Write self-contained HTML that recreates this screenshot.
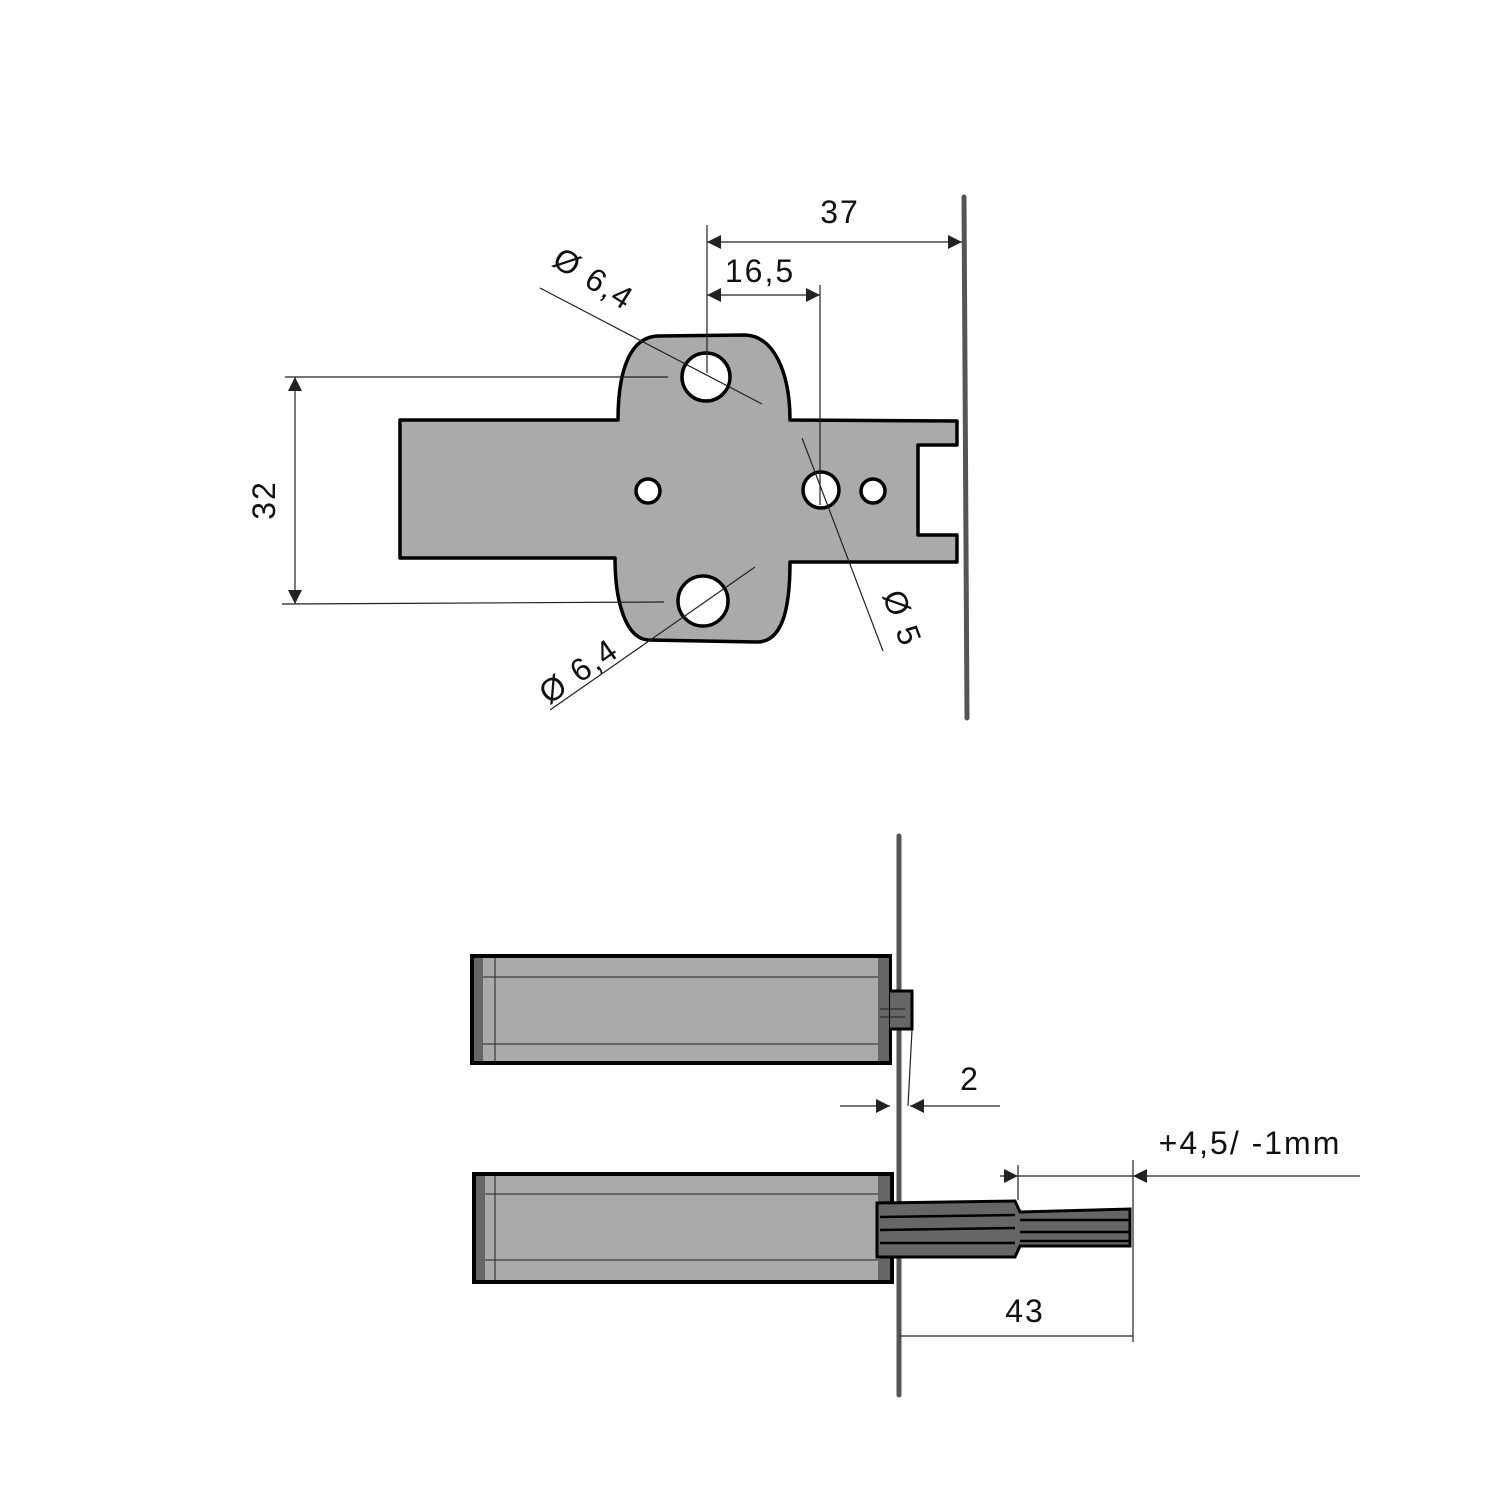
<!DOCTYPE html>
<html><head><meta charset="utf-8"><style>html,body{margin:0;padding:0;background:#fff}svg{display:block}</style></head>
<body>
<svg width="1500" height="1500" viewBox="0 0 1500 1500" xmlns="http://www.w3.org/2000/svg" font-family="Liberation Sans, sans-serif">
<defs>
<marker id="a" viewBox="0 0 10 10" refX="10" refY="5" markerWidth="14" markerHeight="14" markerUnits="userSpaceOnUse" orient="auto-start-reverse"><path d="M0,0 L10,5 L0,10 Z" fill="#222"/></marker>
</defs>
<rect width="1500" height="1500" fill="#fff"/>
<line x1="964" y1="197" x2="967" y2="718" stroke="#555" stroke-width="5" stroke-linecap="round"/>
<path d="M400,420 L618,420 C618,375 628,337 658,336 L745,335 C775,336 790,375 790,420 L957,421 L957,445 L918,445 L918,535 L957,535 L957,562 L790,562 C790,610 782,642 757,642 L648,640 C625,638 615,600 615,558 L400,558 Z" fill="#aaa" stroke="#000" stroke-width="3.5" stroke-linejoin="round"/>
<g fill="#fff" stroke="#000" stroke-width="3.5">
<circle cx="706" cy="377" r="24"/><circle cx="703" cy="601" r="25"/><circle cx="821" cy="490" r="18"/><circle cx="648" cy="491" r="12"/><circle cx="873" cy="491" r="12"/>
</g>
<g stroke="#222" stroke-width="1.2" fill="none">
<line x1="707" y1="225" x2="707" y2="373"/>
<line x1="707" y1="242" x2="962" y2="242" marker-start="url(#a)" marker-end="url(#a)"/>
<line x1="820" y1="285" x2="820" y2="505"/>
<line x1="707" y1="295" x2="820" y2="295" marker-start="url(#a)" marker-end="url(#a)"/>
<line x1="285" y1="377" x2="668" y2="377"/>
<line x1="282" y1="604" x2="664" y2="602"/>
<line x1="295" y1="377" x2="295" y2="604" marker-start="url(#a)" marker-end="url(#a)"/>
<line x1="540" y1="288" x2="762" y2="404"/>
<line x1="550" y1="710" x2="755" y2="567"/>
<line x1="802" y1="438" x2="883" y2="651"/>
</g>
<g font-size="32" fill="#111" letter-spacing="2">
<text x="840" y="223" text-anchor="middle">37</text>
<text x="760" y="282" text-anchor="middle">16,5</text>
<text transform="translate(275,500) rotate(-90)" text-anchor="middle">32</text>
<text transform="translate(588,288) rotate(32)" text-anchor="middle">Ø 6,4</text>
<text transform="translate(585,680) rotate(-35)" text-anchor="middle">Ø 6,4</text>
<text transform="translate(892,622) rotate(70)" text-anchor="middle">Ø 5</text>
</g>
<line x1="899" y1="836" x2="899" y2="1395" stroke="#555" stroke-width="5" stroke-linecap="round"/>
<rect x="472" y="956" width="418" height="107" fill="#aaa" stroke="#000" stroke-width="4"/>
<rect x="474" y="958" width="9" height="103" fill="#666"/>
<rect x="878" y="958" width="11" height="103" fill="#666"/>
<path d="M890,991 L912,991 L912,1029 L890,1029" fill="#666" stroke="#000" stroke-width="3"/>
<g stroke="#222" stroke-width="1">
<line x1="483" y1="977" x2="878" y2="977"/><line x1="483" y1="1044" x2="878" y2="1044"/><line x1="495" y1="958" x2="495" y2="1061"/>
<line x1="880" y1="1009" x2="905" y2="1009"/><line x1="880" y1="1017" x2="905" y2="1017"/>
</g>
<rect x="474" y="1174" width="418" height="108" fill="#aaa" stroke="#000" stroke-width="4"/>
<rect x="476" y="1176" width="9" height="104" fill="#666"/>
<rect x="878" y="1176" width="12" height="104" fill="#666"/>
<g stroke="#222" stroke-width="1">
<line x1="485" y1="1194" x2="878" y2="1194"/><line x1="485" y1="1260" x2="878" y2="1260"/><line x1="495" y1="1176" x2="495" y2="1280"/>
</g>
<path d="M877,1203 L1015,1201 L1020,1212 L1130,1209 L1130,1246 L1020,1246 L1015,1257 L877,1257 Z" fill="#666" stroke="#000" stroke-width="3"/>
<g stroke="#000" stroke-width="2.5">
<line x1="880" y1="1217" x2="1015" y2="1215"/><line x1="880" y1="1230" x2="1015" y2="1228"/><line x1="880" y1="1243" x2="1015" y2="1243"/>
<line x1="1020" y1="1220" x2="1130" y2="1220"/><line x1="1020" y1="1232" x2="1130" y2="1232"/><line x1="1020" y1="1241" x2="1130" y2="1241"/>
</g>
<g stroke="#222" stroke-width="1.2" fill="none">
<line x1="912" y1="1030" x2="908" y2="1106"/>
<line x1="840" y1="1106" x2="890" y2="1106" marker-end="url(#a)"/>
<line x1="1000" y1="1106" x2="910" y2="1106" marker-end="url(#a)"/>
<line x1="1018" y1="1165" x2="1018" y2="1200"/>
<line x1="1133" y1="1160" x2="1133" y2="1342"/>
<line x1="1000" y1="1176" x2="1018" y2="1176" marker-end="url(#a)"/>
<line x1="1018" y1="1176" x2="1133" y2="1176"/>
<line x1="1360" y1="1176" x2="1133" y2="1176" marker-end="url(#a)"/>
<line x1="900" y1="1336" x2="1133" y2="1336"/>
</g>
<g font-size="32" fill="#111" letter-spacing="2">
<text x="970" y="1090" text-anchor="middle">2</text>
<text x="1250" y="1154" text-anchor="middle">+4,5/ -1mm</text>
<text x="1025" y="1322" text-anchor="middle">43</text>
</g>
</svg>
</body></html>
